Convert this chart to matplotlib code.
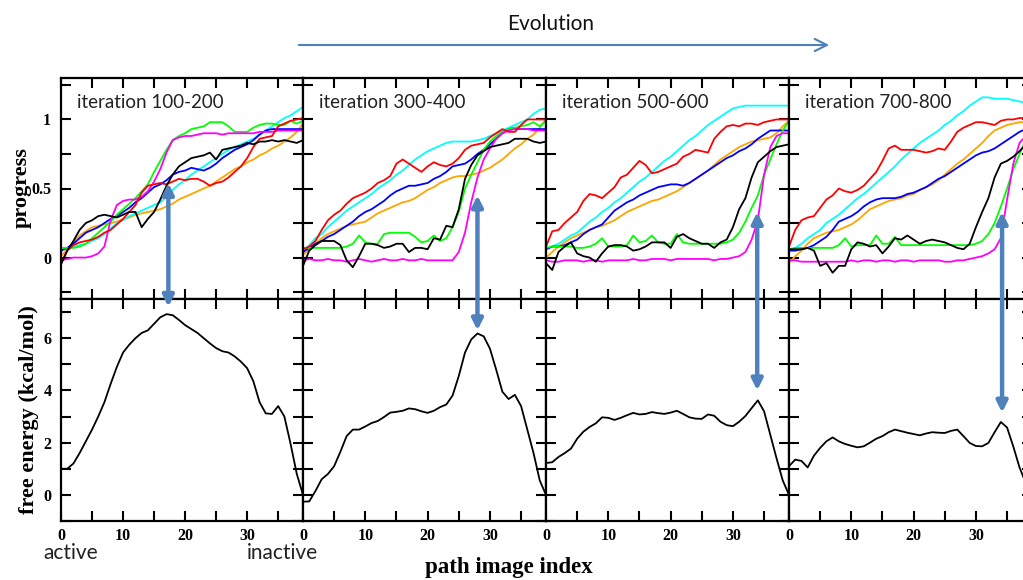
import numpy as np
import matplotlib

matplotlib.use("Agg")
import matplotlib.pyplot as plt
from matplotlib.patches import ConnectionPatch, FancyArrowPatch
from matplotlib.ticker import MultipleLocator, FuncFormatter

# path image index shared by every panel
IMAGE_INDEX = np.arange(40)

WINDOWS = ["iteration 100-200", "iteration 300-400", "iteration 500-600", "iteration 700-800"]

# progress curves, iteration 100-200
black_100 = [-0.05, 0.05, 0.12, 0.20, 0.25, 0.27, 0.30, 0.31, 0.30, 0.29, 0.31, 0.33, 0.33, 0.22, 0.28, 0.33, 0.42, 0.52, 0.60, 0.66,
             0.69, 0.72, 0.73, 0.74, 0.76, 0.71, 0.78, 0.79, 0.80, 0.81, 0.83, 0.82, 0.84, 0.84, 0.85, 0.84, 0.85, 0.84, 0.83, 0.85]
red_100 = [-0.04, 0.05, 0.09, 0.11, 0.12, 0.13, 0.15, 0.18, 0.20, 0.24, 0.28, 0.33, 0.38, 0.47, 0.52, 0.53, 0.54, 0.53, 0.55, 0.57,
           0.56, 0.57, 0.57, 0.55, 0.52, 0.54, 0.55, 0.58, 0.62, 0.66, 0.72, 0.80, 0.86, 0.87, 0.88, 0.95, 0.97, 0.99, 1.00, 1.01]
green_100 = [0.07, 0.07, 0.07, 0.08, 0.10, 0.14, 0.18, 0.22, 0.26, 0.31, 0.35, 0.39, 0.43, 0.48, 0.53, 0.62, 0.70, 0.78, 0.85, 0.88,
             0.90, 0.93, 0.94, 0.95, 0.98, 0.98, 0.98, 0.95, 0.91, 0.91, 0.91, 0.94, 0.96, 0.97, 0.97, 0.96, 0.96, 0.99, 0.97, 0.99]
blue_100 = [0.05, 0.07, 0.10, 0.14, 0.18, 0.20, 0.22, 0.25, 0.28, 0.30, 0.33, 0.36, 0.40, 0.43, 0.47, 0.51, 0.53, 0.56, 0.60, 0.62,
            0.63, 0.65, 0.64, 0.63, 0.65, 0.68, 0.72, 0.75, 0.78, 0.80, 0.82, 0.85, 0.89, 0.92, 0.93, 0.93, 0.93, 0.93, 0.93, 0.93]
magenta_100 = [-0.02, -0.01, 0.00, 0.00, 0.00, 0.01, 0.03, 0.08, 0.27, 0.38, 0.41, 0.42, 0.42, 0.44, 0.48, 0.55, 0.64, 0.76, 0.85, 0.87,
               0.88, 0.88, 0.89, 0.90, 0.90, 0.90, 0.89, 0.90, 0.90, 0.90, 0.90, 0.90, 0.91, 0.91, 0.91, 0.92, 0.92, 0.92, 0.92, 0.92]
cyan_100 = [0.06, 0.07, 0.08, 0.09, 0.10, 0.12, 0.14, 0.17, 0.21, 0.25, 0.27, 0.30, 0.32, 0.34, 0.36, 0.38, 0.40, 0.44, 0.49, 0.53,
            0.56, 0.60, 0.63, 0.66, 0.69, 0.72, 0.75, 0.78, 0.80, 0.82, 0.84, 0.86, 0.89, 0.92, 0.95, 0.98, 1.01, 1.03, 1.06, 1.09]
orange_100 = [0.01, 0.06, 0.11, 0.16, 0.19, 0.22, 0.23, 0.24, 0.25, 0.26, 0.28, 0.29, 0.31, 0.32, 0.33, 0.34, 0.35, 0.37, 0.39, 0.42,
              0.44, 0.46, 0.48, 0.50, 0.52, 0.55, 0.58, 0.61, 0.64, 0.66, 0.69, 0.71, 0.74, 0.76, 0.79, 0.81, 0.84, 0.87, 0.91, 0.97]

# progress curves, iteration 300-400
black_300 = [-0.06, 0.05, 0.09, 0.12, 0.12, 0.12, 0.09, -0.02, -0.07, 0.01, 0.10, 0.10, 0.09, 0.07, 0.08, 0.10, 0.10, 0.04, 0.07, 0.07,
             0.06, 0.14, 0.13, 0.23, 0.22, 0.35, 0.57, 0.67, 0.74, 0.77, 0.80, 0.81, 0.82, 0.83, 0.86, 0.86, 0.86, 0.84, 0.83, 0.84]
red_300 = [0.06, 0.08, 0.12, 0.20, 0.27, 0.31, 0.34, 0.39, 0.43, 0.45, 0.47, 0.50, 0.54, 0.56, 0.59, 0.68, 0.71, 0.68, 0.65, 0.62,
           0.66, 0.69, 0.67, 0.66, 0.68, 0.72, 0.78, 0.81, 0.82, 0.83, 0.87, 0.90, 0.93, 0.91, 0.91, 0.96, 1.00, 1.00, 1.00, 1.00]
green_300 = [0.07, 0.07, 0.07, 0.07, 0.07, 0.07, 0.07, 0.08, 0.10, 0.16, 0.11, 0.10, 0.10, 0.17, 0.18, 0.18, 0.18, 0.18, 0.15, 0.11,
             0.12, 0.16, 0.12, 0.14, 0.22, 0.33, 0.50, 0.60, 0.69, 0.78, 0.84, 0.88, 0.91, 0.93, 0.94, 0.95, 0.96, 0.98, 0.95, 0.99]
blue_300 = [0.04, 0.07, 0.10, 0.12, 0.15, 0.17, 0.20, 0.23, 0.26, 0.30, 0.33, 0.35, 0.38, 0.41, 0.45, 0.48, 0.50, 0.52, 0.52, 0.53,
            0.54, 0.57, 0.59, 0.62, 0.66, 0.67, 0.68, 0.71, 0.75, 0.78, 0.82, 0.86, 0.90, 0.93, 0.94, 0.93, 0.93, 0.93, 0.93, 0.93]
magenta_300 = [-0.02, -0.01, -0.02, -0.02, -0.01, -0.02, -0.02, -0.03, -0.02, -0.01, -0.02, -0.03, -0.02, -0.01, -0.02, -0.02, -0.01,
               -0.02, -0.02, -0.01, -0.02, -0.02, -0.02, -0.02, -0.02, 0.04, 0.18, 0.40, 0.58, 0.71, 0.79, 0.86, 0.90, 0.92, 0.93,
               0.93, 0.93, 0.92, 0.92, 0.92]
cyan_300 = [0.05, 0.09, 0.14, 0.17, 0.22, 0.26, 0.30, 0.34, 0.37, 0.40, 0.43, 0.46, 0.50, 0.53, 0.56, 0.60, 0.63, 0.67, 0.71, 0.74,
            0.77, 0.79, 0.81, 0.83, 0.84, 0.84, 0.84, 0.84, 0.85, 0.86, 0.88, 0.90, 0.92, 0.94, 0.96, 0.98, 1.00, 1.04, 1.07, 1.08]
orange_300 = [0.02, 0.06, 0.10, 0.14, 0.17, 0.19, 0.21, 0.23, 0.24, 0.25, 0.26, 0.29, 0.32, 0.34, 0.36, 0.38, 0.40, 0.41, 0.43, 0.46,
              0.49, 0.51, 0.54, 0.56, 0.58, 0.59, 0.59, 0.60, 0.61, 0.63, 0.65, 0.68, 0.71, 0.75, 0.79, 0.82, 0.86, 0.89, 0.94, 1.00]

# progress curves, iteration 500-600
black_500 = [-0.04, -0.09, 0.04, 0.08, 0.11, 0.03, 0.01, 0.00, -0.03, 0.03, 0.08, 0.09, 0.09, 0.08, 0.05, 0.06, 0.08, 0.11, 0.11, 0.11,
             0.07, 0.15, 0.17, 0.14, 0.12, 0.10, 0.10, 0.07, 0.11, 0.13, 0.22, 0.35, 0.43, 0.58, 0.69, 0.73, 0.77, 0.80, 0.81, 0.82]
red_500 = [0.08, 0.19, 0.20, 0.25, 0.29, 0.33, 0.41, 0.46, 0.45, 0.43, 0.47, 0.51, 0.58, 0.60, 0.65, 0.70, 0.67, 0.61, 0.62, 0.64,
           0.66, 0.68, 0.73, 0.75, 0.78, 0.77, 0.76, 0.86, 0.91, 0.95, 0.96, 0.95, 0.97, 0.97, 0.96, 0.98, 0.99, 1.00, 1.00, 1.00]
green_500 = [0.07, 0.08, 0.08, 0.08, 0.08, 0.07, 0.07, 0.08, 0.10, 0.14, 0.08, 0.08, 0.08, 0.09, 0.16, 0.11, 0.12, 0.16, 0.11, 0.10,
             0.10, 0.17, 0.11, 0.10, 0.10, 0.10, 0.10, 0.10, 0.10, 0.11, 0.13, 0.18, 0.26, 0.36, 0.45, 0.60, 0.71, 0.82, 0.92, 0.99]
blue_500 = [0.06, 0.08, 0.08, 0.09, 0.11, 0.13, 0.17, 0.20, 0.22, 0.24, 0.29, 0.34, 0.37, 0.40, 0.42, 0.45, 0.47, 0.49, 0.51, 0.52,
            0.53, 0.53, 0.52, 0.54, 0.57, 0.60, 0.63, 0.66, 0.69, 0.72, 0.74, 0.77, 0.79, 0.82, 0.86, 0.89, 0.92, 0.92, 0.92, 0.92]
magenta_500 = [-0.02, -0.03, -0.03, -0.02, -0.02, -0.02, -0.03, -0.02, -0.02, -0.03, -0.02, -0.02, -0.02, -0.02, -0.01, -0.02, -0.02,
               -0.01, -0.01, -0.01, -0.02, -0.01, -0.01, -0.01, -0.01, -0.01, -0.01, -0.02, -0.01, -0.01, 0.00, 0.01, 0.04, 0.13,
               0.27, 0.60, 0.80, 0.88, 0.90, 0.90]
cyan_500 = [0.06, 0.08, 0.10, 0.13, 0.16, 0.18, 0.22, 0.26, 0.29, 0.33, 0.36, 0.40, 0.43, 0.47, 0.51, 0.55, 0.58, 0.62, 0.66, 0.70,
            0.73, 0.77, 0.81, 0.85, 0.88, 0.92, 0.96, 0.99, 1.02, 1.05, 1.08, 1.09, 1.10, 1.10, 1.10, 1.10, 1.10, 1.10, 1.10, 1.10]
orange_500 = [0.00, 0.04, 0.08, 0.11, 0.14, 0.16, 0.18, 0.20, 0.22, 0.23, 0.25, 0.27, 0.30, 0.33, 0.35, 0.37, 0.39, 0.41, 0.42, 0.44,
              0.46, 0.48, 0.51, 0.54, 0.57, 0.60, 0.63, 0.67, 0.71, 0.74, 0.77, 0.80, 0.82, 0.84, 0.85, 0.86, 0.87, 0.90, 0.95, 0.99]

# progress curves, iteration 700-800
black_700 = [0.06, 0.06, 0.06, 0.07, 0.05, -0.06, -0.04, -0.11, -0.06, -0.06, 0.06, 0.11, 0.10, 0.08, 0.09, 0.03, 0.08, 0.14, 0.13, 0.16,
             0.13, 0.10, 0.12, 0.13, 0.12, 0.11, 0.09, 0.07, 0.06, 0.10, 0.22, 0.33, 0.43, 0.58, 0.68, 0.70, 0.73, 0.77, 0.82, 0.85]
red_700 = [0.08, 0.20, 0.27, 0.29, 0.30, 0.36, 0.42, 0.45, 0.50, 0.48, 0.47, 0.49, 0.52, 0.57, 0.62, 0.70, 0.79, 0.81, 0.78, 0.78,
           0.78, 0.77, 0.76, 0.77, 0.79, 0.78, 0.84, 0.91, 0.94, 0.96, 0.98, 0.98, 0.97, 0.96, 0.99, 1.00, 1.00, 1.01, 1.01, 1.01]
green_700 = [0.06, 0.07, 0.07, 0.07, 0.07, 0.07, 0.07, 0.07, 0.09, 0.14, 0.08, 0.09, 0.09, 0.09, 0.16, 0.10, 0.10, 0.15, 0.09, 0.09,
             0.09, 0.09, 0.09, 0.09, 0.09, 0.09, 0.09, 0.09, 0.09, 0.09, 0.10, 0.12, 0.17, 0.25, 0.37, 0.50, 0.64, 0.75, 0.85, 0.92]
blue_700 = [0.05, 0.05, 0.06, 0.07, 0.09, 0.12, 0.15, 0.20, 0.26, 0.28, 0.30, 0.33, 0.37, 0.40, 0.42, 0.43, 0.43, 0.43, 0.44, 0.46,
            0.47, 0.49, 0.51, 0.54, 0.57, 0.59, 0.62, 0.65, 0.68, 0.71, 0.74, 0.76, 0.77, 0.79, 0.82, 0.85, 0.88, 0.91, 0.93, 0.95]
magenta_700 = [-0.02, -0.02, -0.03, -0.03, -0.03, -0.03, -0.03, -0.03, -0.03, -0.03, -0.02, -0.03, -0.02, -0.02, -0.03, -0.02, -0.02,
               -0.03, -0.02, -0.02, -0.03, -0.02, -0.02, -0.02, -0.02, -0.03, -0.03, -0.02, -0.02, -0.01, 0.00, 0.01, 0.03, 0.06,
               0.14, 0.42, 0.68, 0.83, 0.88, 0.90]
cyan_700 = [0.05, 0.07, 0.10, 0.14, 0.17, 0.20, 0.25, 0.28, 0.31, 0.35, 0.39, 0.43, 0.46, 0.50, 0.54, 0.58, 0.62, 0.66, 0.71, 0.75,
            0.79, 0.83, 0.86, 0.89, 0.92, 0.96, 0.99, 1.03, 1.06, 1.10, 1.13, 1.16, 1.16, 1.15, 1.15, 1.15, 1.14, 1.13, 1.12, 1.11]
orange_700 = [-0.04, 0.01, 0.05, 0.10, 0.14, 0.16, 0.18, 0.19, 0.20, 0.22, 0.24, 0.27, 0.31, 0.35, 0.37, 0.39, 0.41, 0.42, 0.43, 0.45,
              0.46, 0.49, 0.51, 0.53, 0.56, 0.60, 0.64, 0.68, 0.71, 0.75, 0.79, 0.83, 0.88, 0.92, 0.94, 0.96, 0.97, 0.98, 0.98, 0.98]

# free energy profiles (kcal/mol)
energy_100 = [1.00, 1.00, 1.20, 1.60, 2.05, 2.50, 3.00, 3.55, 4.25, 4.90, 5.45, 5.75, 6.00, 6.20, 6.30, 6.55, 6.80, 6.92, 6.88, 6.70,
              6.50, 6.35, 6.20, 6.00, 5.80, 5.62, 5.50, 5.45, 5.30, 5.10, 4.85, 4.35, 3.55, 3.12, 3.10, 3.40, 3.00, 1.95, 0.80, 0.00]
energy_300 = [-0.26, -0.25, 0.15, 0.60, 0.80, 1.10, 1.65, 2.25, 2.50, 2.50, 2.62, 2.75, 2.83, 2.98, 3.15, 3.18, 3.22, 3.31, 3.28, 3.20,
              3.14, 3.22, 3.36, 3.46, 3.80, 4.55, 5.45, 5.95, 6.18, 6.07, 5.60, 4.80, 3.95, 3.67, 3.83, 3.40, 2.50, 1.60, 0.55, 0.00]
energy_500 = [1.22, 1.25, 1.45, 1.60, 1.77, 2.15, 2.42, 2.60, 2.74, 2.97, 2.95, 2.87, 2.95, 3.05, 3.14, 3.08, 3.10, 3.17, 3.13, 3.10,
              3.15, 3.22, 3.10, 2.97, 2.92, 2.91, 3.08, 3.03, 2.80, 2.67, 2.63, 2.80, 3.02, 3.32, 3.62, 3.20, 2.30, 1.40, 0.55, 0.00]
energy_700 = [1.10, 1.35, 1.30, 1.05, 1.50, 1.80, 2.05, 2.20, 2.05, 1.95, 1.88, 1.82, 1.86, 2.00, 2.15, 2.25, 2.40, 2.50, 2.44, 2.38,
              2.33, 2.28, 2.35, 2.40, 2.38, 2.37, 2.45, 2.50, 2.25, 1.99, 1.87, 1.86, 1.99, 2.40, 2.79, 2.58, 1.85, 1.05, 0.45, 0.00]

# blue double arrows linking the transition in progress to the barrier top
arrow_index = [17.3, 28.0, 33.9, 34.2]
arrow_progress = [0.54, 0.45, 0.33, 0.33]
arrow_energy = [7.2, 6.3, 4.0, 3.15]

LINE_COLORS = {
    "orange": "#FFA500",
    "cyan": "#00FFFF",
    "blue": "#0000FF",
    "green": "#00FF00",
    "magenta": "#FF00FF",
    "red": "#FF0000",
    "black": "#000000",
}

progress_sets = [
    {"orange": orange_100, "cyan": cyan_100, "blue": blue_100, "green": green_100,
     "magenta": magenta_100, "red": red_100, "black": black_100},
    {"orange": orange_300, "cyan": cyan_300, "blue": blue_300, "green": green_300,
     "magenta": magenta_300, "red": red_300, "black": black_300},
    {"orange": orange_500, "cyan": cyan_500, "blue": blue_500, "green": green_500,
     "magenta": magenta_500, "red": red_500, "black": black_500},
    {"orange": orange_700, "cyan": cyan_700, "blue": blue_700, "green": green_700,
     "magenta": magenta_700, "red": red_700, "black": black_700},
]
energy_sets = [energy_100, energy_300, energy_500, energy_700]

SERIF = ["Liberation Serif", "DejaVu Serif"]
SANS = ["Lato", "DejaVu Sans"]
ARROW_BLUE = "#4F81BD"

W, H = 1023, 580
fig = plt.figure(figsize=(W / 100, H / 100), dpi=100)

# panel edges in pixels; the last panel runs past the right edge of the figure
col_edges = [61, 303, 546, 789, 1032]
top_axes, bot_axes = [], []
for i in range(4):
    x0, x1 = col_edges[i], col_edges[i + 1]
    ax_t = fig.add_axes([x0 / W, (H - 299) / H, (x1 - x0) / W, 221 / H])
    ax_b = fig.add_axes([x0 / W, (H - 521) / H, (x1 - x0) / W, 222 / H])
    top_axes.append(ax_t)
    bot_axes.append(ax_b)


def _style(ax, ymajor, yminor, show_x, show_y):
    ax.set_xlim(0, 39)
    ax.xaxis.set_major_locator(MultipleLocator(10))
    ax.xaxis.set_minor_locator(MultipleLocator(5))
    ax.yaxis.set_major_locator(MultipleLocator(ymajor))
    ax.yaxis.set_minor_locator(MultipleLocator(yminor))
    fmt = FuncFormatter(lambda v, _: f"{v:g}")
    ax.xaxis.set_major_formatter(fmt)
    ax.yaxis.set_major_formatter(fmt)
    for which in ("major", "minor"):
        ax.tick_params(axis="both", which=which, direction="in", length=7, width=1.5,
                       top=True, right=True, bottom=True, left=True)
    ax.tick_params(axis="x", labelbottom=show_x, pad=5)
    ax.tick_params(axis="y", labelleft=show_y, pad=7)
    for lab in ax.get_xticklabels() + ax.get_yticklabels():
        lab.set_fontfamily(SERIF)
        lab.set_fontweight("bold")
        lab.set_fontsize(11.5)
    for sp in ax.spines.values():
        sp.set_linewidth(1.6)


for i in range(4):
    ax_t, ax_b = top_axes[i], bot_axes[i]
    for name, values in progress_sets[i].items():
        ax_t.plot(IMAGE_INDEX, values, color=LINE_COLORS[name], lw=1.3)
    ax_t.set_ylim(-0.3, 1.3)
    _style(ax_t, 0.5, 0.25, False, i == 0)
    ax_t.text(0.066, 0.864, WINDOWS[i], transform=ax_t.transAxes, va="baseline", ha="left",
              fontsize=13.5, family=SANS, color="#222222")

    ax_b.plot(IMAGE_INDEX, energy_sets[i], color="black", lw=1.3)
    ax_b.set_ylim(-1, 7.5)
    _style(ax_b, 2, 1, True, i == 0)

    con = ConnectionPatch(xyA=(arrow_index[i], arrow_progress[i]), coordsA=ax_t.transData,
                          xyB=(arrow_index[i], arrow_energy[i]), coordsB=ax_b.transData,
                          arrowstyle="<|-|>", mutation_scale=16, color=ARROW_BLUE, lw=3.2)
    fig.add_artist(con)

fig.text(22 / W, 1 - 188 / H, "progress", rotation=90, ha="center", va="center",
         fontsize=16, fontweight="bold", family=SERIF)
fig.text(29 / W, 1 - 410 / H, "free energy (kcal/mol)", rotation=90, ha="center", va="center",
         fontsize=16, fontweight="bold", family=SERIF)
fig.text(509 / W, 1 - 567 / H, "path image index", ha="center", va="center",
         fontsize=16.5, fontweight="bold", family=SERIF)
fig.text(71 / W, 1 - 553 / H, "active", ha="center", va="center", fontsize=15, family=SANS, color="#222222")
fig.text(282 / W, 1 - 553 / H, "inactive", ha="center", va="center", fontsize=15, family=SANS, color="#222222")

fig.text(551 / W, 1 - 24 / H, "Evolution", ha="center", va="center", fontsize=15, family=SANS, color="#111111")
fig.add_artist(FancyArrowPatch((296 / W, 1 - 45 / H), (832 / W, 1 - 45 / H), transform=fig.transFigure,
                               arrowstyle="->", mutation_scale=22, color=ARROW_BLUE, lw=1.5))

fig.savefig("out.png", dpi=100)
